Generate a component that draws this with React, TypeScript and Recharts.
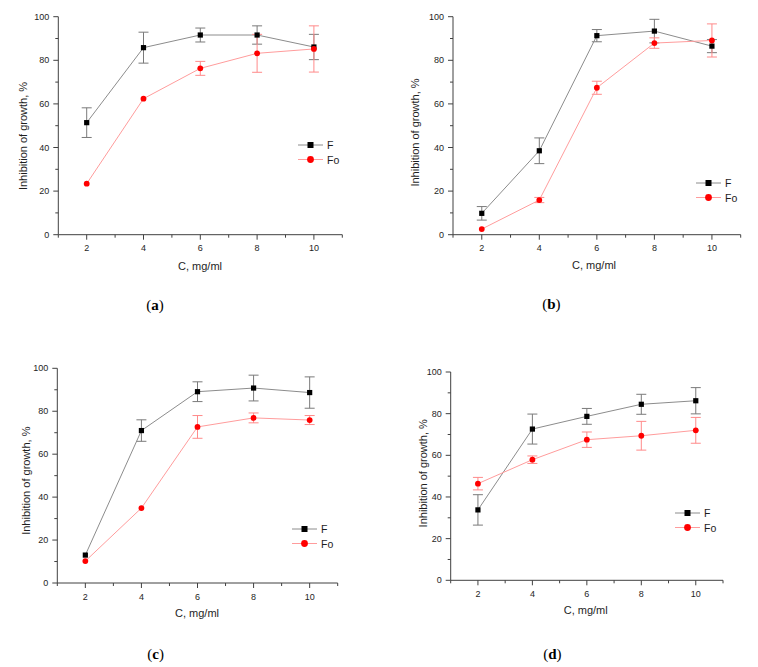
import React from 'react';
import { LineChart, Line, XAxis, YAxis, ErrorBar, Legend, Label } from 'recharts';

// ---------- data ----------
const concentrations = [2, 4, 6, 8, 10];
const xTicks = [1, 2, 3, 4, 5, 6, 7, 8, 9, 10, 11];
const yTicks = [0, 10, 20, 30, 40, 50, 60, 70, 80, 90, 100];
const seriesNames = ['F', 'Fo'];
const panelLabels = ['a', 'b', 'c', 'd'];
const xTitle = 'C, mg/ml';
const yTitle = 'Inhibition of growth, %';

const fA = [51.4, 85.8, 91.6, 91.6, 86.1];
const fAErr = [6.8, 7.1, 3.2, 4.2, 5.8];
const foA = [23.4, 62.4, 76.3, 83.2, 85.2];
const foAErr = [0, 0, 3.2, 8.7, 10.6];

const fB = [9.8, 38.5, 91.3, 93.4, 86.5];
const fBErr = [3.1, 5.9, 2.8, 5.4, 3.0];
const foB = [2.6, 15.9, 67.4, 87.9, 89.1];
const foBErr = [0, 1.2, 3.0, 2.4, 7.6];

const fC = [13.0, 71.0, 89.1, 90.8, 88.7];
const fCErr = [0, 5.0, 4.6, 6.0, 7.3];
const foC = [10.2, 34.9, 72.7, 76.9, 75.9];
const foCErr = [0, 0, 5.3, 2.3, 2.1];

const fD = [33.8, 72.6, 78.7, 84.5, 86.2];
const fDErr = [7.3, 7.2, 3.8, 4.8, 6.3];
const foD = [46.4, 57.9, 67.5, 69.4, 72.0];
const foDErr = [3.0, 1.8, 3.7, 6.9, 6.2];

const panelSeries = [
  { f: fA, fErr: fAErr, fo: foA, foErr: foAErr },
  { f: fB, fErr: fBErr, fo: foB, foErr: foBErr },
  { f: fC, fErr: fCErr, fo: foC, foErr: foCErr },
  { f: fD, fErr: fDErr, fo: foD, foErr: foDErr },
];

// ---------- layout / style ----------
const SANS = '"Liberation Sans", Arial, sans-serif';
const SERIF = '"Liberation Serif", "Times New Roman", serif';
const AXIS = '#404040';
const TEXT = '#1e1e1e';
const F_LINE = '#8c8c8c';
const F_MARK = '#000000';
const F_ERR = '#7a7a7a';
const FO_LINE = '#ff9c9c';
const FO_MARK = '#ff0000';
const FO_ERR = '#ff8a8a';
const AXIS_W = 1; // width of y axis box / height of x axis box

const layouts = [
  {
    left: 0, top: 0, width: 379, height: 330,
    margin: { top: 16.7, right: 36.7, bottom: 95.3, left: 58.3 },
    yTitle: { x: 23, y: 136 }, xTitle: { x: 200, y: 266 },
    legend: { x: 297.5, y: 144.5 }, caption: { x: 155, y: 305 },
  },
  {
    left: 379, top: 0, width: 379, height: 330,
    margin: { top: 16.7, right: 17.3, bottom: 95.3, left: 74 },
    yTitle: { x: 36, y: 132.5 }, xTitle: { x: 215, y: 265 },
    legend: { x: 316.5, y: 182.7 }, caption: { x: 172.3, y: 304 },
  },
  {
    left: 0, top: 330, width: 379, height: 337,
    margin: { top: 38.3, right: 41.3, bottom: 84, left: 57.3 },
    yTitle: { x: 26, y: 150.7 }, xTitle: { x: 197, y: 283.3 },
    legend: { x: 291.5, y: 199 }, caption: { x: 155.7, y: 324 },
  },
  {
    left: 379, top: 330, width: 379, height: 337,
    margin: { top: 42, right: 35, bottom: 86.7, left: 71.7 },
    yTitle: { x: 44, y: 143.3 }, xTitle: { x: 206.7, y: 280.3 },
    legend: { x: 296, y: 183.3 }, caption: { x: 173.3, y: 324 },
  },
];

function XTick(props: any) {
  const { x, y, payload } = props;
  const v = payload.value;
  const major = v % 2 === 0 && v >= 2 && v <= 10;
  return (
    <g>
      <line x1={x} y1={y} x2={x} y2={y + (major ? 5 : 3)} stroke={AXIS} strokeWidth={1} />
      {major && (
        <text x={x} y={y + 13.7} textAnchor="middle" dominantBaseline="central" fontSize={9} fill={TEXT} fontFamily={SANS}>
          {v}
        </text>
      )}
    </g>
  );
}

function YTick(props: any) {
  const { x, y, payload } = props;
  const v = payload.value;
  const major = v % 20 === 0;
  return (
    <g>
      <line x1={x - (major ? 5 : 3)} y1={y} x2={x} y2={y} stroke={AXIS} strokeWidth={1} />
      {major && (
        <text x={x - 9} y={y} textAnchor="end" dominantBaseline="central" fontSize={9} fill={TEXT} fontFamily={SANS}>
          {v}
        </text>
      )}
    </g>
  );
}

function SquareDot(props: any) {
  const { cx, cy, index } = props;
  if (cx == null || cy == null) return <g key={`sq-${index}`} />;
  return <rect key={`sq-${index}`} x={cx - 2.6} y={cy - 2.6} width={5.2} height={5.2} fill={F_MARK} />;
}

function CircleDot(props: any) {
  const { cx, cy, index } = props;
  if (cx == null || cy == null) return <g key={`ci-${index}`} />;
  return <circle key={`ci-${index}`} cx={cx} cy={cy} r={2.9} fill={FO_MARK} />;
}

function LegendBox() {
  const rowGap = 14.5;
  return (
    <svg width={52} height={34} style={{ overflow: 'visible', display: 'block' }}>
      <line x1={2} y1={8} x2={27} y2={8} stroke={F_LINE} strokeWidth={1} />
      <rect x={14.5 - 3} y={8 - 3} width={6} height={6} fill={F_MARK} />
      <text x={31} y={8} dominantBaseline="central" fontSize={10.5} fill={TEXT} fontFamily={SANS}>
        {seriesNames[0]}
      </text>
      <line x1={2} y1={8 + rowGap} x2={27} y2={8 + rowGap} stroke={FO_LINE} strokeWidth={1} />
      <circle cx={14.5} cy={8 + rowGap} r={3.4} fill={FO_MARK} />
      <text x={31} y={8 + rowGap} dominantBaseline="central" fontSize={10.5} fill={TEXT} fontFamily={SANS}>
        {seriesNames[1]}
      </text>
    </svg>
  );
}

function Panel({ index }: { index: number }) {
  const L = layouts[index];
  const s = panelSeries[index];
  const data = concentrations.map((c, i) => ({
    c,
    f: s.f[i],
    fErr: s.fErr[i],
    fo: s.fo[i],
    foErr: s.foErr[i],
  }));
  const margin = {
    top: L.margin.top,
    right: L.margin.right,
    bottom: L.margin.bottom - AXIS_W,
    left: L.margin.left - AXIS_W,
  };
  return (
    <div style={{ position: 'absolute', left: L.left, top: L.top, width: L.width, height: L.height }}>
      <LineChart width={L.width} height={L.height} data={data} margin={margin} style={{ overflow: 'visible' }}>
        <XAxis
          dataKey="c"
          type="number"
          domain={[1, 11]}
          ticks={xTicks}
          interval={0}
          height={AXIS_W}
          tickSize={0}
          tickMargin={0}
          tick={<XTick />}
          tickLine={false}
          axisLine={{ stroke: AXIS, strokeWidth: 1 }}
          allowDataOverflow
        >
          <Label
            content={() => (
              <text x={L.xTitle.x} y={L.xTitle.y} textAnchor="middle" dominantBaseline="central" fontSize={11} fill={TEXT} fontFamily={SANS}>
                {xTitle}
              </text>
            )}
          />
        </XAxis>
        <YAxis
          type="number"
          domain={[0, 100]}
          ticks={yTicks}
          interval={0}
          width={AXIS_W}
          tickSize={0}
          tickMargin={0}
          tick={<YTick />}
          tickLine={false}
          axisLine={{ stroke: AXIS, strokeWidth: 1 }}
          allowDataOverflow
        >
          <Label
            content={() => (
              <text
                x={L.yTitle.x}
                y={L.yTitle.y}
                textAnchor="middle"
                dominantBaseline="central"
                fontSize={11}
                fill={TEXT}
                fontFamily={SANS}
                transform={`rotate(-90 ${L.yTitle.x} ${L.yTitle.y})`}
              >
                {yTitle}
              </text>
            )}
          />
        </YAxis>
        <Line
          type="linear"
          dataKey="f"
          name={seriesNames[0]}
          stroke={F_LINE}
          strokeWidth={1}
          dot={<SquareDot />}
          activeDot={false}
          isAnimationActive={false}
        >
          <ErrorBar dataKey="fErr" direction="y" width={5} stroke={F_ERR} strokeWidth={1} isAnimationActive={false} />
        </Line>
        <Line
          type="linear"
          dataKey="fo"
          name={seriesNames[1]}
          stroke={FO_LINE}
          strokeWidth={1}
          dot={<CircleDot />}
          activeDot={false}
          isAnimationActive={false}
        >
          <ErrorBar dataKey="foErr" direction="y" width={5} stroke={FO_ERR} strokeWidth={1} isAnimationActive={false} />
        </Line>
        <Legend
          layout="horizontal"
          align="center"
          verticalAlign="middle"
          wrapperStyle={{ left: L.legend.x - 2, top: L.legend.y - 8, width: 52, height: 34 }}
          content={() => <LegendBox />}
        />
      </LineChart>
      <div
        style={{
          position: 'absolute',
          left: L.caption.x - 30,
          top: L.caption.y - 10,
          width: 60,
          height: 20,
          lineHeight: '20px',
          textAlign: 'center',
          fontFamily: SERIF,
          fontSize: 15,
          color: '#000',
        }}
      >
        (<b>{panelLabels[index]}</b>)
      </div>
    </div>
  );
}

export default function App() {
  return (
    <div style={{ position: 'absolute', left: 0, top: 0, width: 758, height: 667, background: '#fff' }}>
      {[0, 1, 2, 3].map((i) => (
        <Panel key={i} index={i} />
      ))}
    </div>
  );
}
